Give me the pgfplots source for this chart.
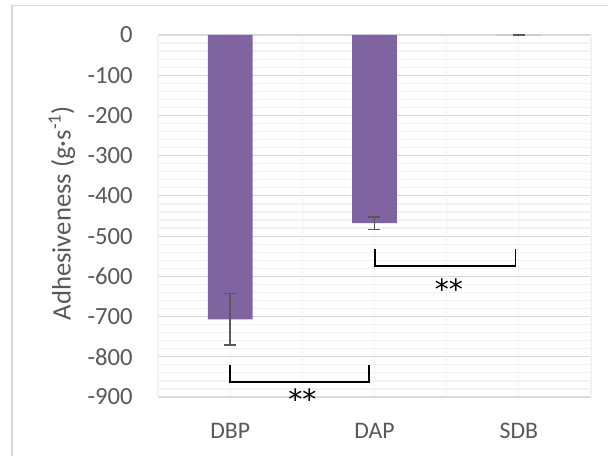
\documentclass[border=0pt]{standalone}
\usepackage{pgfplots}
\pgfplotsset{compat=1.18}
\usepackage{fontspec}
\setmainfont{Carlito}
\newfontfamily\starfont{DejaVu Sans}
\definecolor{barpurple}{HTML}{8064A2}
\definecolor{txtgray}{HTML}{595959}
\definecolor{gridmaj}{HTML}{D9D9D9}
\definecolor{gridmin}{HTML}{F2F2F2}
\begin{document}
\begin{tikzpicture}
\useasboundingbox (0,0) rectangle (456pt,342pt);
\fill[white] (0,0) rectangle (456pt,342pt);
\draw[gridmaj, line width=1.2pt] (9pt,0) -- (9pt,337.9pt) -- (456pt,337.9pt);
\begin{axis}[
  at={(118.5pt,44.25pt)}, anchor=south west,
  scale only axis, width=324.75pt, height=271.5pt,
  xmin=-0.5, xmax=2.5, ymin=-900, ymax=0,
  axis line style={draw=none}, clip=false,
  ybar, bar width=0.31,
  xtick={0,1,2}, xticklabels={DBP,DAP,SDB},
  extra x ticks={-0.5,0.5,1.5,2.5}, extra x tick labels={},
  extra x tick style={grid style={gridmaj, line width=0.9pt}},
  ytick={-900,-800,-700,-600,-500,-400,-300,-200,-100,0},
  yticklabels={-900,-800,-700,-600,-500,-400,-300,-200,-100,0},
  minor y tick num=4,
  xmajorgrids, ymajorgrids, yminorgrids,
  major grid style={gridmaj, line width=0.9pt},
  minor grid style={gridmin, line width=0.9pt},
  x grid style={gridmin, line width=0.9pt},
  major tick length=0pt, minor tick length=0pt,
  tick style={draw=none},
  yticklabel style={anchor=east, inner sep=0pt, xshift=-18.75pt,
    font=\fontsize{18.5}{20}\selectfont, text=txtgray},
  xticklabel style={anchor=north, inner sep=0pt, yshift=-19.3pt,
    font=\fontsize{17.8}{20}\selectfont, text=txtgray},
  ylabel={Adhesiveness (g·s\textsuperscript{-1})},
  ylabel style={at={(rel axis cs:-0.222,0.508)}, anchor=center, rotate=0,
    font=\fontsize{20}{22}\selectfont, text=txtgray},
]
\addplot[fill=barpurple, draw=none,
  error bars/.cd, y dir=both, y explicit,
  error bar style={line width=1.1pt, color=txtgray},
  error mark options={rotate=90, mark size=4.5pt, line width=1.1pt, color=txtgray}]
  table[x=x, y=y, y error=e] {
x y e
0 -707 64
1 -468 15
2 -0.5 0.5
};
\draw[black, line width=1.3pt] (axis cs:0,-820) -- (axis cs:0,-863) -- (axis cs:0.96,-863) -- (axis cs:0.96,-820);
\draw[black, line width=1.3pt] (axis cs:1.004,-532) -- (axis cs:1.004,-574) -- (axis cs:1.977,-574) -- (axis cs:1.977,-532);
\node[font=\starfont\fontsize{21}{22}\selectfont, text=black, inner sep=0pt] at (axis cs:0.501,-905) {**};
\node[font=\starfont\fontsize{21}{22}\selectfont, text=black, inner sep=0pt] at (axis cs:1.515,-633) {**};
\end{axis}
\end{tikzpicture}
\end{document}
